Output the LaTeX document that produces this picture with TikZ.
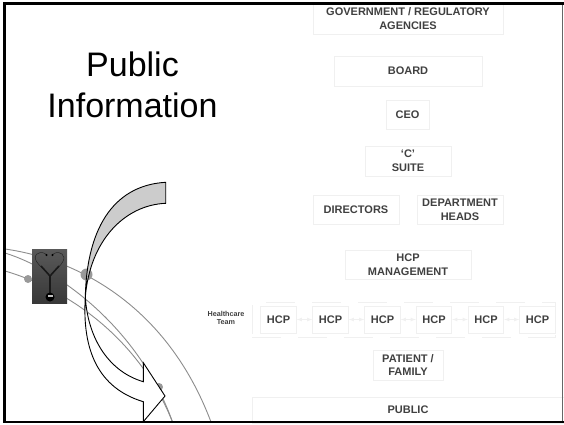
\documentclass[tikz,border=0pt]{standalone}
\usepackage{fontspec}
\setmainfont{Liberation Sans}
\usetikzlibrary{arrows}
\usetikzlibrary{calc}
\definecolor{boxline}{gray}{0.94}
\definecolor{boxtext}{gray}{0.25}
\definecolor{arcline}{gray}{0.55}

\begin{document}
\begin{tikzpicture}[x=1pt, y=-1pt,
  post/.style={draw=boxline, line width=.8pt, text=boxtext, align=center, inner sep=0pt, font=\fontsize{11}{13.8}\selectfont\bfseries},
  hcp/.style={post, minimum width=35.5pt, minimum height=27pt},
  link/.style={<->, >=latex, draw=boxline, line width=.8pt},
  arc/.style={draw=arcline, line width=.9pt},
  dot/.style={circle, fill=black!40, inner sep=0pt}]
\useasboundingbox (0,0) rectangle (564,424);

% orbits behind the picture
\draw[arc] (5,249) .. controls (70,258) and (165,300) .. (211,422);
\draw[arc] (5,253) .. controls (60,270) and (140,330) .. (172.5,422);
\draw[arc] (5,271) .. controls (70,290) and (140,340) .. (172.5,422);
\node[dot, minimum size=8pt] (dota) at (28,279) {};
\node[dot, minimum size=12pt] (dotb) at (86.5,274.5) {};
\node[dot, minimum size=8pt] (dotc) at (159,387) {};

% stethoscope
\shade[top color=black!65, bottom color=black!78] (32,249) rectangle (67,303);
\draw[black!85, line width=.5pt] (48,273) .. controls (38,265) and (32,258) .. (37,254) .. controls (41,251) and (46,253) .. (47,256);
\draw[black!85, line width=.5pt] (52,273) .. controls (62,265) and (67,258) .. (62,254) .. controls (58,251) and (53,253) .. (52,256);
\fill[black] (46.5,255) circle (1.2pt) (52.5,255) circle (1.2pt);
\draw[black!90, line width=1.6pt] (41,266) -- (50,276) -- (59,266);
\draw[black!90, line width=1.6pt] (50,276) -- (50,293);
\fill[black] (50,297) circle (4.5pt);
\fill[black!25] (47.5,295) rectangle (52.5,296.5);

% curved arrow
\draw[black, line width=.9pt, fill=white] (85.3,297) .. controls (82,350) and (98,388) .. (143.3,401.7) -- (143.3,421.7) -- (165,396) -- (143.3,362.7) -- (143.3,381.7) .. controls (110,372) and (88,340) .. (85.3,297) -- cycle;
\draw[black, line width=.9pt, fill=black!20] (165.7,182.3) .. controls (118,185) and (87,222) .. (85.3,297) .. controls (90,240) and (125,205) .. (165.7,203.3) -- cycle;

\node[text=black, font=\fontsize{34}{41}\selectfont, align=center] (title) at (132.5,85) {Public\\Information};

\node[post, minimum width=190pt, minimum height=31pt] (gov) at (408,18.5) {GOVERNMENT / REGULATORY\\AGENCIES};
\node[post, minimum width=148pt, minimum height=30pt] (board) at (408,71) {BOARD};
\node[post, minimum width=43pt, minimum height=29pt] (ceo) at (407.5,114.5) {CEO};
\node[post, minimum width=86pt, minimum height=30pt] (suite) at (408,161) {`C'\\SUITE};
\node[post, minimum width=86pt, minimum height=29pt] (directors) at (356,209.5) {DIRECTORS};
\node[post, minimum width=86pt, minimum height=29pt] (heads) at (460,209.5) {DEPARTMENT\\HEADS};
\node[post, minimum width=126pt, minimum height=29pt] (mgmt) at (408,264.5) {HCP\\MANAGEMENT};

% healthcare team
\node[draw=boxline, line width=.8pt, dash pattern=on 29pt off 17pt, minimum width=303pt, minimum height=35pt, inner sep=0pt] (team) at (403.5,319.5) {};
\node[text=boxtext, align=center, font=\fontsize{7.2}{8.6}\selectfont\bfseries] (teamlabel) at (226,318) {Healthcare\\Team};
\foreach \name/\x in {hcpa/278.5, hcpb/330.5, hcpc/382.5, hcpd/434, hcpe/486, hcpf/537.5}
  \node[hcp] (\name) at (\x,319.5) {HCP};
\foreach \from/\to in {hcpa/hcpb, hcpb/hcpc, hcpc/hcpd, hcpd/hcpe, hcpe/hcpf}
  \draw[link] (\from) -- (\to);

\node[post, minimum width=70pt, minimum height=30pt] (patient) at (408,365) {PATIENT /\\FAMILY};
\node[post, minimum width=312pt, minimum height=26pt] (public) at (408,410) {PUBLIC};

% slide frame
\draw[black!60, line width=1pt] (562.8,3) -- (562.8,422);
\draw[black, line width=2.6pt] (4.5,2) -- (4.5,423);
\draw[black, line width=2.6pt] (3.2,3.5) -- (564,3.5);
\draw[black, line width=2pt] (3.2,422.3) -- (564,422.3);
\end{tikzpicture}
\end{document}
